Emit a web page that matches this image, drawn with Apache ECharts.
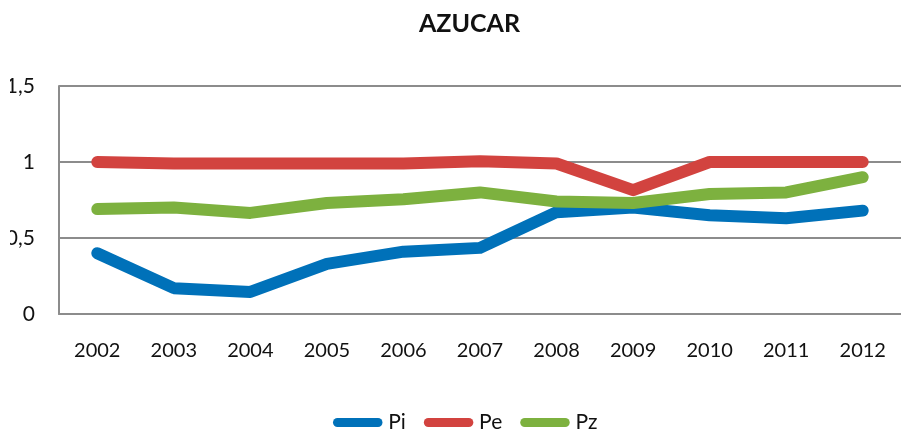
<!DOCTYPE html>
<html>
<head>
<meta charset="utf-8">
<title>AZUCAR</title>
<script src="https://cdn.jsdelivr.net/npm/echarts@6/dist/echarts.min.js"></script>
<style>
    html, body { margin: 0; padding: 0; background: #fff; }
    #chart { width: 901px; height: 432px; }
</style>
</head>
<body>
<div id="chart"></div>
<script>
// 年份（类目）
const years = ['2002', '2003', '2004', '2005', '2006', '2007', '2008', '2009', '2010', '2011', '2012'];
// 三条折线的数据
const piValues = [0.40, 0.17, 0.145, 0.33, 0.41, 0.435, 0.67, 0.70, 0.65, 0.63, 0.68];
const peValues = [1.00, 0.99, 0.99, 0.99, 0.99, 1.005, 0.99, 0.815, 1.00, 1.00, 1.00];
const pzValues = [0.69, 0.70, 0.665, 0.73, 0.755, 0.80, 0.74, 0.73, 0.79, 0.80, 0.90];
// Y轴刻度
const yTicks = [0, 0.5, 1, 1.5];

document.addEventListener('DOMContentLoaded', () => {
    const chartContainer = document.getElementById('chart');
    if (!chartContainer) return;

    const myChart = echarts.init(chartContainer);
    const font = 'Lato, "Open Sans", sans-serif';

    // 生成一条折线
    const makeLine = (name, data, color) => ({
        name: name,
        type: 'line',
        data: data,
        symbol: 'none',
        smooth: false,
        lineStyle: { width: 12, color: color, cap: 'round', join: 'round' },
        itemStyle: { color: color }
    });

    const option = {
        backgroundColor: '#fff',
        animation: false,
        title: {
            text: 'AZUCAR',
            left: 414,
            top: 6,
            textStyle: { fontFamily: font, fontSize: 25, fontWeight: 'bold', color: '#111' }
        },
        legend: {
            left: 328,
            top: 407,
            itemWidth: 55,
            itemHeight: 9,
            itemGap: 18,
            icon: 'path://M5,0 L50,0 A5,5 0 0 1 50,10 L5,10 A5,5 0 0 1 5,0 Z',
            textStyle: { fontFamily: font, fontSize: 21, color: '#111', padding: [0, 0, 0, -2] },
            data: ['Pi', 'Pe', 'Pz']
        },
        grid: { left: 59, top: 86, width: 855, height: 228 },
        xAxis: {
            type: 'category',
            data: years,
            boundaryGap: true,
            axisLine: { lineStyle: { color: '#8c8c8c', width: 2 } },
            axisTick: { show: false },
            axisLabel: { margin: 27, fontFamily: font, fontSize: 20, color: '#111' }
        },
        yAxis: {
            type: 'value',
            min: yTicks[0],
            max: yTicks[yTicks.length - 1],
            interval: 0.5,
            axisLine: { show: true, lineStyle: { color: '#8c8c8c', width: 2 } },
            axisTick: { show: false },
            splitLine: { lineStyle: { color: '#8c8c8c', width: 2 } },
            axisLabel: {
                margin: 24,
                fontFamily: font,
                fontSize: 21,
                color: '#111',
                formatter: v => String(v).replace('.', ',')
            }
        },
        // 左侧白色遮挡，模拟原图被裁掉的刻度文字
        graphic: [{
            type: 'rect',
            left: 0,
            top: 70,
            z: 100,
            shape: { width: 10, height: 260 },
            style: { fill: '#fff' }
        }],
        series: [
            makeLine('Pi', piValues, '#0071b9'),
            makeLine('Pe', peValues, '#d2433f'),
            makeLine('Pz', pzValues, '#7db13f')
        ]
    };

    myChart.setOption(option);
});
</script>
</body>
</html>
